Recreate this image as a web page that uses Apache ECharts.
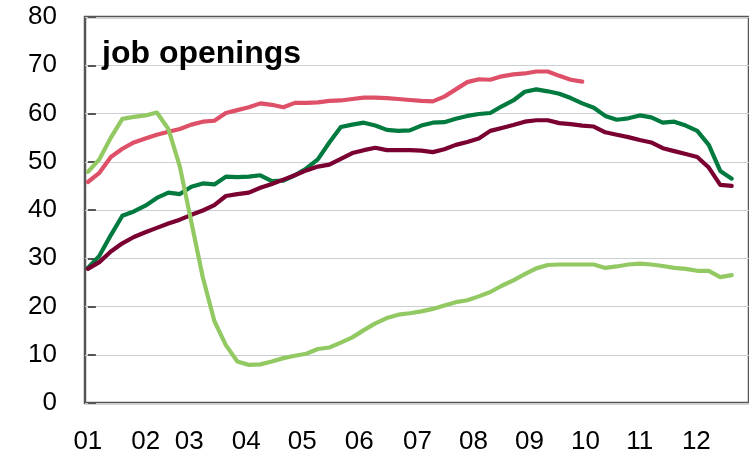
<!DOCTYPE html>
<html>
<head>
<meta charset="utf-8">
<script src="https://cdn.jsdelivr.net/npm/echarts@6/dist/echarts.min.js"></script>
<style>
  html, body { margin: 0; padding: 0; background: #ffffff; }
  #chart { width: 749px; height: 455px; }
</style>
</head>
<body>
<div id="chart"></div>
<script>
const lightGreen = [47.9, 50.5, 55.0, 58.9, 59.3, 59.6, 60.2, 56.8, 49.0, 37.5,
  26.0, 17.0, 12.0, 8.6, 7.9, 8.0, 8.6, 9.3, 9.8, 10.2,
  11.2, 11.5, 12.5, 13.6, 15.1, 16.5, 17.6, 18.3, 18.6, 19.0,
  19.5, 20.2, 20.9, 21.3, 22.1, 23.0, 24.3, 25.4, 26.7, 27.9,
  28.6, 28.7, 28.7, 28.7, 28.7, 28.0, 28.3, 28.7, 28.9, 28.7,
  28.4, 28.0, 27.8, 27.4, 27.4, 26.1, 26.5];
const pink = [45.8, 47.7, 51.0, 52.7, 54.0, 54.8, 55.6, 56.2, 56.8, 57.7,
  58.3, 58.5, 60.1, 60.7, 61.3, 62.1, 61.8, 61.3, 62.2, 62.2,
  62.3, 62.6, 62.7, 63.0, 63.3, 63.3, 63.2, 63.0, 62.8, 62.6,
  62.5, 63.5, 65.0, 66.5, 67.1, 67.0, 67.7, 68.1, 68.3, 68.7,
  68.7, 67.8, 67.0, 66.6];
const darkGreen = [28.0, 30.5, 34.8, 38.8, 39.7, 40.9, 42.5, 43.6, 43.3, 44.8,
  45.5, 45.3, 46.9, 46.8, 46.9, 47.2, 46.0, 46.1, 47.2, 48.6,
  50.5, 54.0, 57.2, 57.7, 58.1, 57.5, 56.6, 56.4, 56.5, 57.5,
  58.1, 58.2, 58.9, 59.5, 59.9, 60.1, 61.5, 62.7, 64.5, 65.0,
  64.6, 64.1, 63.2, 62.1, 61.2, 59.5, 58.7, 59.0, 59.6, 59.2,
  58.1, 58.3, 57.5, 56.4, 53.5, 48.1, 46.5];
const maroon = [27.8, 29.2, 31.4, 33.1, 34.4, 35.4, 36.3, 37.2, 38.0, 39.0,
  39.9, 41.0, 42.9, 43.3, 43.6, 44.6, 45.4, 46.3, 47.2, 48.2,
  49.0, 49.4, 50.6, 51.8, 52.4, 52.9, 52.4, 52.4, 52.4, 52.3,
  52.0, 52.6, 53.5, 54.1, 54.8, 56.4, 57.0, 57.6, 58.3, 58.6,
  58.6, 58.0, 57.8, 57.5, 57.3, 56.1, 55.6, 55.1, 54.5, 54.0,
  52.8, 52.2, 51.6, 51.0, 48.8, 45.2, 45.0];
const tickLabels = ['01', '02', '03', '04', '05', '06', '07', '08', '09', '10', '11', '12'];
const tickValues = [0, 5.04, 8.82, 13.77, 18.64, 23.6, 28.67, 33.53, 38.4, 43.27, 48.0, 52.92];
const yTicks = [0, 10, 20, 30, 40, 50, 60, 70, 80];
const titleText = 'job openings';

function toPairs(arr) { return arr.map((v, i) => [i, v]); }

const FONT = "'Liberation Sans', Arial, sans-serif";
const chart = echarts.init(document.getElementById('chart'), null, { renderer: 'canvas' });

function lineSeries(name, data, color) {
  return {
    name: name,
    type: 'line',
    data: toPairs(data),
    showSymbol: false,
    symbol: 'none',
    smooth: false,
    animation: false,
    lineStyle: { color: color, width: 4.2, cap: 'round', join: 'round' },
    emphasis: { disabled: true }
  };
}

chart.setOption({
  animation: false,
  backgroundColor: '#ffffff',
  title: {
    text: titleText,
    left: 102,
    top: 38,
    padding: 0,
    textStyle: { fontFamily: FONT, fontSize: 32, fontWeight: 'bold', color: '#000000' }
  },
  grid: {
    left: 85,
    top: 17,
    width: 672,
    height: 388,
    show: true,
    borderColor: '#555555',
    borderWidth: 2.5,
    backgroundColor: 'transparent'
  },
  xAxis: {
    type: 'value',
    min: -0.25,
    max: 57.5,
    axisLine: { show: false },
    axisTick: { show: false },
    splitLine: { show: false },
    axisLabel: {
      customValues: tickValues,
      formatter: function (v) {
        let best = 0;
        for (let k = 0; k < tickValues.length; k++) {
          if (Math.abs(tickValues[k] - v) < Math.abs(tickValues[best] - v)) best = k;
        }
        return tickLabels[best];
      },
      margin: 26,
      fontFamily: FONT,
      fontSize: 26,
      color: '#000000'
    }
  },
  yAxis: {
    type: 'value',
    min: 0,
    max: 80,
    interval: 10,
    axisLine: { show: false },
    axisTick: { show: true, inside: true, length: 8, lineStyle: { color: '#555555', width: 2 } },
    splitLine: { show: true, lineStyle: { color: '#c9cfd2', width: 1.2 } },
    axisLabel: {
      margin: 28,
      fontFamily: FONT,
      fontSize: 26,
      color: '#000000',
      formatter: function (v) { return yTicks.indexOf(v) >= 0 ? String(v) : ''; }
    }
  },
  series: [
    lineSeries('darkGreen', darkGreen, '#007a3e'),
    lineSeries('maroon', maroon, '#7a0031'),
    lineSeries('pink', pink, '#de5068'),
    lineSeries('lightGreen', lightGreen, '#92c962')
  ]
});
</script>
</body>
</html>
